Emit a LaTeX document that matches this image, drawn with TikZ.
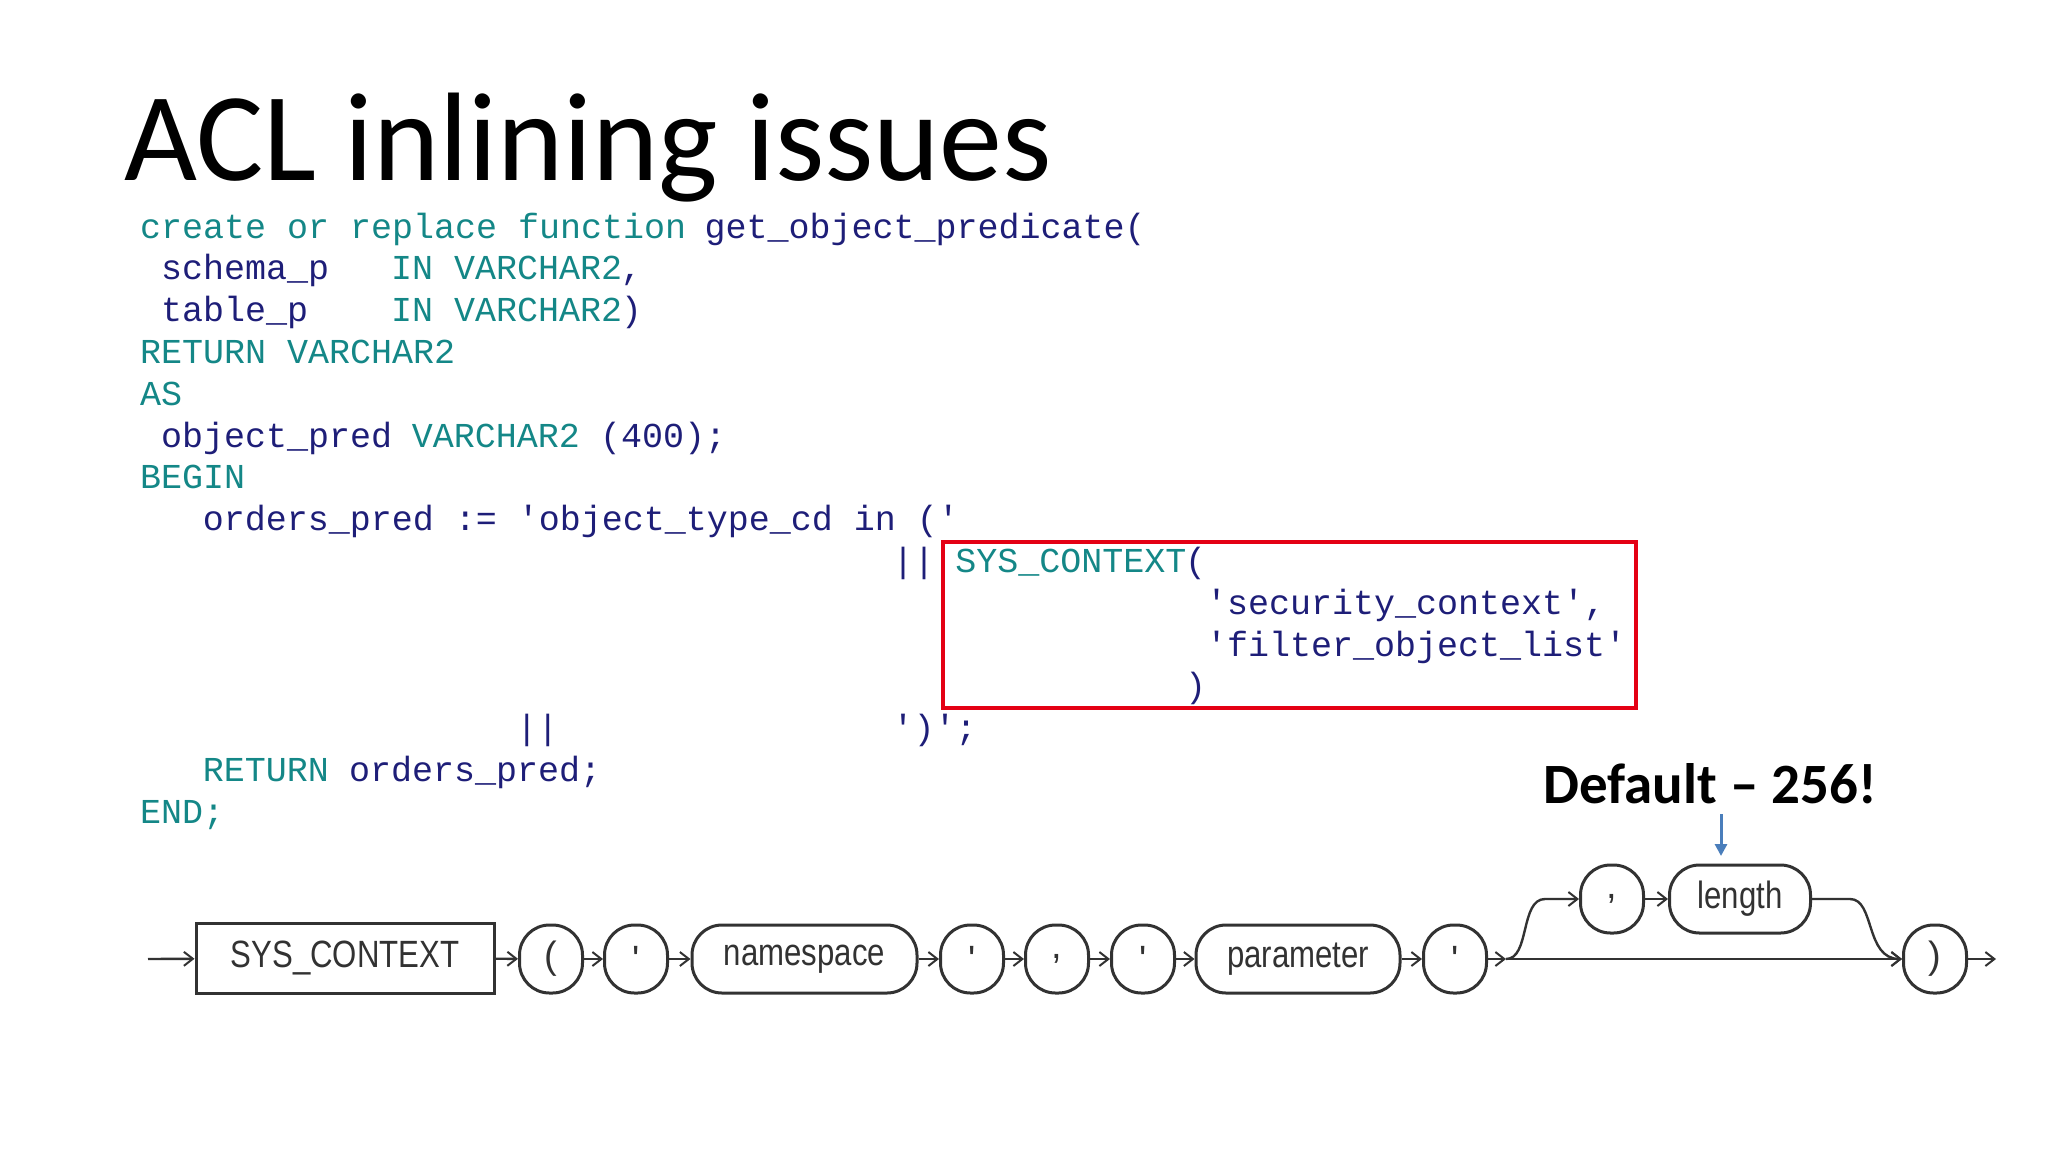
\documentclass[tikz,border=0pt]{standalone}
\usepackage{fontspec}
\setmainfont{Carlito}
\setmonofont{Liberation Mono}
\newfontfamily\narrowf{Liberation Sans}
\usetikzlibrary{arrows.meta}
\definecolor{kw}{RGB}{20,135,135}
\definecolor{idn}{RGB}{30,30,120}
\definecolor{rbox}{RGB}{228,0,20}
\definecolor{barrow}{RGB}{74,126,187}
\definecolor{dline}{RGB}{50,50,50}
\newcommand\cx[1]{{140+#1*20.9}}
\newcommand\ly[1]{{238+(#1-1)*41.8}}
\tikzset{
 code/.style={anchor=base west,inner sep=0,font=\ttfamily\fontsize{35}{35}\selectfont},
 k/.style={code,text=kw}, d/.style={code,text=idn},
 term/.style={draw=dline,line width=3pt,rounded corners=30pt,minimum height=68pt,inner sep=0,font=\narrowf\fontsize{38}{38}\selectfont,text=dline},
 tbox/.style={draw=dline,line width=3pt,minimum height=70pt,minimum width=298pt,inner sep=0,font=\narrowf\fontsize{38}{38}\selectfont,text=dline},
 conn/.style={draw=dline,line width=2.4pt,-{Straight Barb[length=9pt,width=14pt,line width=2pt]}},
 plain/.style={draw=dline,line width=2.4pt}
}
\begin{document}
\begin{tikzpicture}[x=1pt,y=-1pt]
\useasboundingbox (0,0) rectangle (2048,1152);
\node[anchor=base west,inner sep=0,font=\fontsize{126}{126}\selectfont] (title) at (124,180) {ACL inlining issues};
% code
\node[k] (c1a) at (\cx{0},\ly{1}) {create or replace function};
\node[d] (c1b) at (\cx{27},\ly{1}) {get\_object\_predicate(};
\node[d] (c2a) at (\cx{1},\ly{2}) {schema\_p};
\node[k] (c2b) at (\cx{12},\ly{2}) {IN VARCHAR2};
\node[d] (c2c) at (\cx{23},\ly{2}) {,};
\node[d] (c3a) at (\cx{1},\ly{3}) {table\_p};
\node[k] (c3b) at (\cx{12},\ly{3}) {IN VARCHAR2};
\node[d] (c3c) at (\cx{23},\ly{3}) {)};
\node[k] (c4) at (\cx{0},\ly{4}) {RETURN VARCHAR2};
\node[k] (c5) at (\cx{0},\ly{5}) {AS};
\node[d] (c6a) at (\cx{1},\ly{6}) {object\_pred};
\node[k] (c6b) at (\cx{13},\ly{6}) {VARCHAR2};
\node[d] (c6c) at (\cx{22},\ly{6}) {(400);};
\node[k] (c7) at (\cx{0},\ly{7}) {BEGIN};
\node[d] (c8) at (\cx{3},\ly{8}) {orders\_pred := 'object\_type\_cd in ('};
\node[d] (c9a) at (\cx{36},\ly{9}) {||};
\node[k] (c9b) at (\cx{39},\ly{9}) {SYS\_CONTEXT};
\node[d] (c9c) at (\cx{50},\ly{9}) {(};
\node[d] (c10) at (\cx{51},\ly{10}) {'security\_context',};
\node[d] (c11) at (\cx{51},\ly{11}) {'filter\_object\_list'};
\node[d] (c12) at (\cx{50},\ly{12}) {)};
\node[d] (c13a) at (\cx{18},\ly{13}) {||};
\node[d] (c13b) at (\cx{36},\ly{13}) {')';};
\node[k] (c14a) at (\cx{3},\ly{14}) {RETURN};
\node[d] (c14b) at (\cx{10},\ly{14}) {orders\_pred;};
\node[k] (c15) at (\cx{0},\ly{15}) {END;};
\node[draw=rbox,line width=4pt,minimum width=693pt,minimum height=166pt,inner sep=0] (red) at (1289.5,625) {};
% default label
\node[font=\bfseries\fontsize{57}{57}\selectfont,inner sep=0] (def) at (1710,784) {Default -- 256!};
\coordinate (ba) at (1721,814);
\coordinate (bb) at (1721,856);
\draw[barrow,line width=3pt,-{Triangle[length=12pt,width=12pt]}] (ba) -- (bb);
% syntax diagram
\coordinate (start) at (148,959);
\node[tbox] (sys) at (345,958) {\scalebox{0.82}[1]{SYS\_CONTEXT}};
\node[term,minimum width=63pt] (o1) at (551,959) {(};
\node[term,minimum width=63pt] (o2) at (636,959) {'};
\node[term,minimum width=225pt] (o3) at (804.5,959) {\scalebox{0.82}[1]{namespace}};
\node[term,minimum width=63pt] (o4) at (972,959) {'};
\node[term,minimum width=63pt] (o5) at (1057,959) {,};
\node[term,minimum width=63pt] (o6) at (1143,959) {'};
\node[term,minimum width=204pt] (o7) at (1298,959) {\scalebox{0.82}[1]{parameter}};
\node[term,minimum width=63pt] (o8) at (1455,959) {'};
\node[term,minimum width=63pt] (o9) at (1612,899) {,};
\node[term,minimum width=141pt] (o10) at (1740,899) {\scalebox{0.82}[1]{length}};
\node[term,minimum width=63pt] (o11) at (1935,959) {)};
\coordinate (fork) at (1506,959);
\coordinate (up1) at (1545,899);
\coordinate (dn1) at (1850,899);
\coordinate (end) at (1996,959);
\draw[conn] (start) -- (sys);
\draw[conn] (sys) -- (o1);
\draw[conn] (o1) -- (o2);
\draw[conn] (o2) -- (o3);
\draw[conn] (o3) -- (o4);
\draw[conn] (o4) -- (o5);
\draw[conn] (o5) -- (o6);
\draw[conn] (o6) -- (o7);
\draw[conn] (o7) -- (o8);
\draw[conn] (o8) -- (fork);
\draw[conn] (fork) -- (o11);
\draw[conn] (fork) .. controls (1530,959) and (1520,899) .. (up1) -- (o9);
\draw[conn] (o9) -- (o10);
\draw[conn] (o10) -- (dn1) .. controls (1875,899) and (1865,959) .. (o11.west);
\draw[conn] (o11) -- (end);
\end{tikzpicture}
\end{document}
